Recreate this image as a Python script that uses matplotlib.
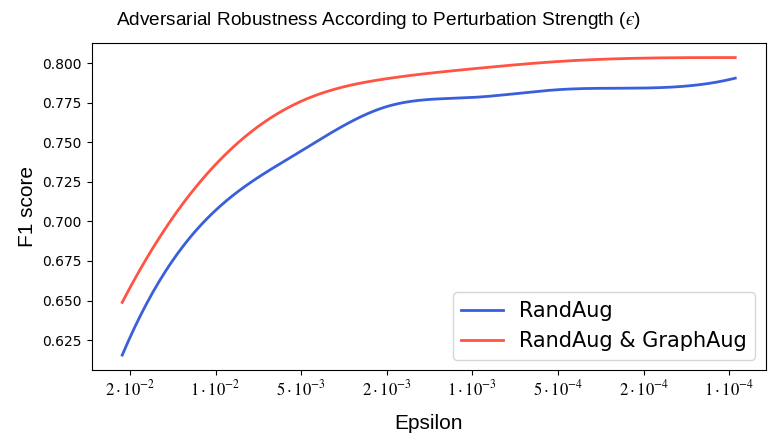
import numpy as np
import matplotlib
matplotlib.use("Agg")
import matplotlib.pyplot as plt

plt.rcParams['mathtext.fontset'] = 'stix'

# ---- data ----
tick_labels = [r'$2\cdot10^{-2}$', r'$1\cdot10^{-2}$', r'$5\cdot10^{-3}$', r'$2\cdot10^{-3}$',
               r'$1\cdot10^{-3}$', r'$5\cdot10^{-4}$', r'$2\cdot10^{-4}$', r'$1\cdot10^{-4}$']
x_points = [-0.09, 0.933, 1.956, 2.979, 4.001, 5.024, 6.047, 7.07]
randaug = [0.6155, 0.7035, 0.7430, 0.7722, 0.7783, 0.7833, 0.7843, 0.7905]
randaug_graphaug = [0.6488, 0.7320, 0.7748, 0.7900, 0.7964, 0.8011, 0.8032, 0.8035]


def smooth(xs, ys, num=300):
    """not-a-knot cubic spline through the points (as make_interp_spline does)"""
    xs = np.asarray(xs, float)
    ys = np.asarray(ys, float)
    n = len(xs)
    h = np.diff(xs)
    A = np.zeros((n, n))
    b = np.zeros(n)
    for i in range(1, n - 1):
        A[i, i - 1] = h[i - 1]
        A[i, i] = 2 * (h[i - 1] + h[i])
        A[i, i + 1] = h[i]
        b[i] = 6 * ((ys[i + 1] - ys[i]) / h[i] - (ys[i] - ys[i - 1]) / h[i - 1])
    # not-a-knot
    A[0, 0] = h[1]
    A[0, 1] = -(h[0] + h[1])
    A[0, 2] = h[0]
    A[-1, -3] = h[-1]
    A[-1, -2] = -(h[-2] + h[-1])
    A[-1, -1] = h[-2]
    M = np.linalg.solve(A, b)
    xx = np.linspace(xs[0], xs[-1], num)
    idx = np.clip(np.searchsorted(xs, xx) - 1, 0, n - 2)
    x0, x1 = xs[idx], xs[idx + 1]
    hh = x1 - x0
    yy = (M[idx] * (x1 - xx) ** 3 / (6 * hh) + M[idx + 1] * (xx - x0) ** 3 / (6 * hh)
          + (ys[idx] / hh - M[idx] * hh / 6) * (x1 - xx)
          + (ys[idx + 1] / hh - M[idx + 1] * hh / 6) * (xx - x0))
    return xx, yy


fig = plt.figure(figsize=(7.76, 4.47), dpi=100)
ax = fig.add_axes([0.118, 0.1723, 0.869, 0.7322])

xb, yb = smooth(x_points, randaug)
xr, yr = smooth(x_points, randaug_graphaug)
ax.plot(xb, yb, color='#3a5fdb', lw=2, label='RandAug')
ax.plot(xr, yr, color='#ff5343', lw=2, label='RandAug & GraphAug')

ax.set_xticks(range(len(tick_labels)))
ax.set_xticklabels(tick_labels, fontsize=12)
ax.set_yticks([0.625, 0.650, 0.675, 0.700, 0.725, 0.750, 0.775, 0.800])
ax.set_yticklabels([f'{v:.3f}' for v in ax.get_yticks()], fontsize=10, family='DejaVu Sans')

ax.set_xlabel('Epsilon', fontsize=15, family='Liberation Sans', labelpad=10)
ax.set_ylabel('F1 score', fontsize=15, family='Liberation Sans')
fig.text(0.488, 0.955,
         'Adversarial Robustness According to Perturbation Strength ($\u03f5$)',
         fontsize=13.7, family='Liberation Sans', ha='center', va='center')

ax.legend(loc='lower right', prop={'family': 'DejaVu Sans', 'size': 15})

fig.savefig('out.png', dpi=100)
